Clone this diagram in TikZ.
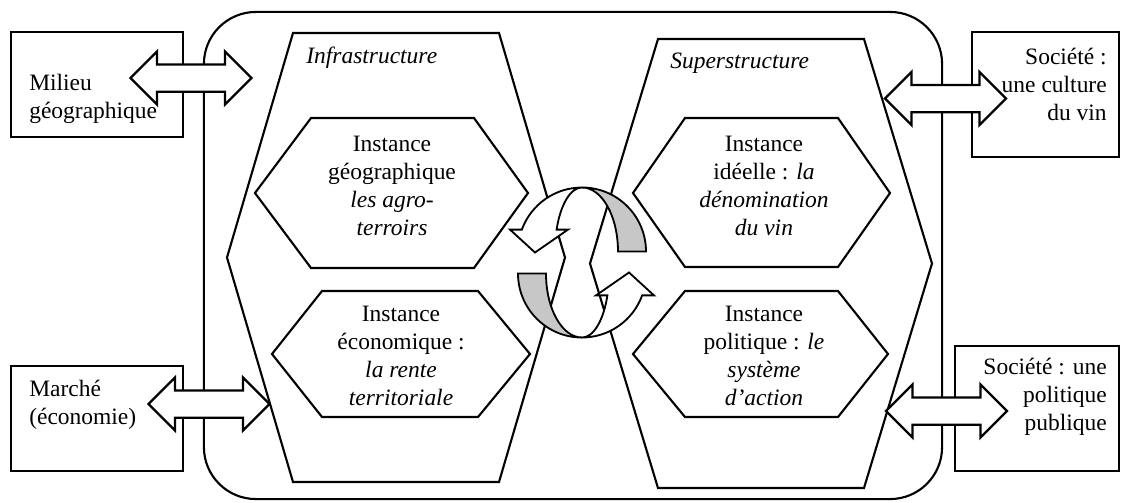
\documentclass[tikz,border=0pt]{standalone}
\usepackage{fontspec}
\setmainfont{Liberation Serif}
\usepackage{tikz}
\usetikzlibrary{shapes.arrows}

\definecolor{backgrey}{gray}{0.78}

\begin{document}
\begin{tikzpicture}[x=0.025cm, y=-0.025cm,
    lbl/.style={font=\fontsize{16.7}{19.9}\selectfont, inner sep=0pt, align=center},
    box/.style={draw, line width=1.8pt, minimum width=4.3cm, minimum height=2.625cm, inner sep=0pt},
    hexa/.style={draw, line width=1.5pt},
    link/.style={double arrow, draw, fill=white, line width=1.6pt, inner xsep=0pt, inner ysep=0.3125cm,
        minimum height=3.025cm, double arrow head extend=0.325cm}]
  \useasboundingbox (0,0) rectangle (1121,502);

  \node[draw, line width=1.5pt, rounded corners=1.3cm, minimum width=18.45cm, minimum height=12.175cm] (frame) at (573,255.5) {};

  \node[box] (mil) at (97,84.5) {};
  \node[box] (mar) at (97,418.5) {};
  \node[box, minimum width=3.675cm, minimum height=3.125cm] (cul) at (1045.5,94.5) {};
  \node[box, minimum width=4.1cm, minimum height=3.125cm] (pol) at (1037,408.5) {};

  % the two structures
  \draw[hexa] (293,33) -- (499,33) -- (565,257.5) -- (499,482) -- (293,482) -- (227,257.5) -- cycle;
  \draw[hexa] (658,39) -- (864,39) -- (932,263.5) -- (864,488) -- (658,488) -- (590,263.5) -- cycle;

  % the four instances
  \draw[hexa] (311,118) -- (474,118) -- (528,193) -- (474,268) -- (311,268) -- (255,193) -- cycle;
  \draw[hexa] (322,291) -- (478,291) -- (530,354) -- (478,417) -- (322,417) -- (272,354) -- cycle;
  \draw[hexa] (685,118) -- (838,118) -- (890,193) -- (838,267) -- (685,267) -- (633,193) -- cycle;
  \draw[hexa] (685,291) -- (838,291) -- (888,354) -- (838,417) -- (685,417) -- (633,354) -- cycle;

  \node[lbl, anchor=west] (infra) at (306,58) {\textit{Infrastructure}};
  \node[lbl, anchor=west] (super) at (670,63) {\textit{Superstructure}};

  \node[lbl] (geo) at (392,185.5) {Instance\\géographique\\\textit{les agro-}\\\textit{terroirs}};
  \node[lbl] (eco) at (401,355.5) {Instance\\économique :\\\textit{la rente}\\\textit{territoriale}};
  \node[lbl] (ide) at (764,185.5) {Instance\\idéelle : \textit{la}\\\textit{dénomination}\\\textit{du vin}};
  \node[lbl] (poli) at (764,355.5) {Instance\\politique : \textit{le}\\\textit{système}\\\textit{d'action}};

  % cycle between the structures
  \coordinate (hub) at (582,262.5);
  \foreach \r in {0,180}{
    \begin{scope}[shift={(hub)}, rotate=\r, line width=1.3pt]
      \draw[fill=backgrey] (64,-11) arc[start angle=0, end angle=90, radius=1.6cm]
        arc[start angle=90, end angle=0, x radius=0.9cm, y radius=1.6cm] -- cycle;
      \draw[fill=white] (0,-75) arc[start angle=90, end angle=160, radius=1.6cm]
        -- (-72,-32.9) -- (-47,-10) -- (-14,-32.9) -- (-25.4,-32.9)
        arc[start angle=160, end angle=90, x radius=0.675cm, y radius=1.6cm] -- cycle;
    \end{scope}}

  \node[link] (aMil) at (191,78) {};
  \node[link] (aMar) at (209,404) {};
  \node[link] (aCul) at (945.5,98.5) {};
  \node[link] (aPol) at (946.5,411) {};

  \node[lbl, align=left, anchor=west] (milT) at (29,99) {Milieu\\géographique};
  \node[lbl, align=left, anchor=west] (marT) at (29,405) {Marché\\(économie)};
  \node[lbl, align=right, anchor=east] (culT) at (1107,84) {Société :\\une culture\\du vin};
  \node[lbl, align=right, anchor=east] (polT) at (1107,397) {Société : une\\politique\\publique};
\end{tikzpicture}
\end{document}
